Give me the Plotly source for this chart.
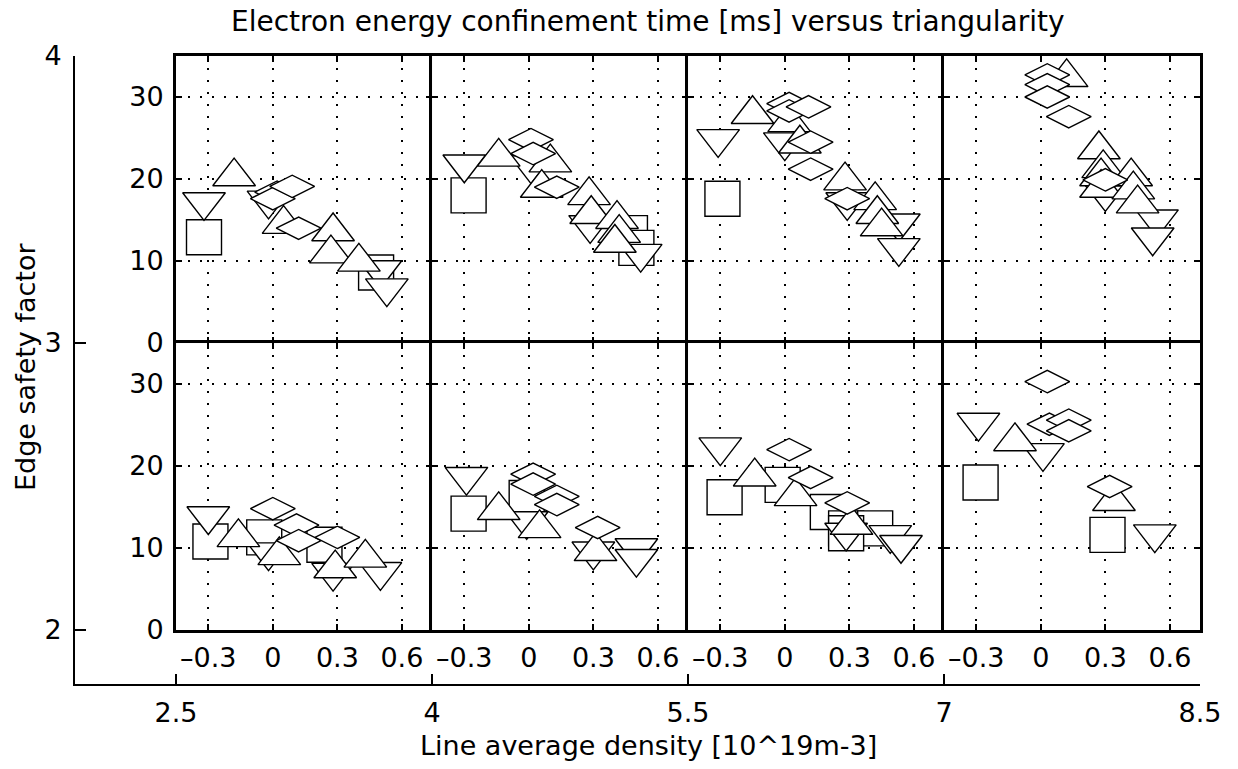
import plotly.graph_objects as go

# ---------------- axis ticks / labels ----------------
DENSITY_TICKS = [2.5, 4, 5.5, 7, 8.5]
DENSITY_LABELS = ["2.5", "4", "5.5", "7", "8.5"]
Q_TICKS = [2, 3, 4]
Q_LABELS = ["2", "3", "4"]
TRI_TICKS = [-0.3, 0, 0.3, 0.6]
TRI_LABELS = ["\u20130.3", "0", "0.3", "0.6"]
TAU_TICKS = [0, 10, 20, 30]
TAU_LABELS = ["0", "10", "20", "30"]

# panel bins: density columns, edge-q rows (top row first)
DENSITY_BINS = [(2.5, 4.0), (4.0, 5.5), (5.5, 7.0), (7.0, 8.5)]
Q_BINS = [(3.0, 4.0), (2.0, 3.0)]

# ---------------- data: triangularity, tau_E [ms], symbol ----------------
# symbol codes: S square, D triangle-down, U triangle-up, R diamond
# top row (q 3-4)
T1_TRI = [-0.32, 0.48, -0.32, -0.02, 0.50, 0.53, -0.18, 0.05, 0.28, 0.27, 0.40, 0.02, 0.00, 0.09, 0.12]
T1_TAU = [12.9, 8.6, 17.2, 17.4, 8.9, 6.7, 20.3, 14.5, 13.6, 10.9, 9.9, 18.4, 17.6, 19.1, 14.0]
T1_SYM = ["S", "S", "D", "D", "D", "D", "U", "U", "U", "U", "U", "R", "R", "R", "R"]

T2_TRI = [-0.28, 0.47, 0.50, -0.30, 0.01, 0.285, 0.52, -0.14, 0.10, 0.06, 0.28, 0.29, 0.41, 0.42, 0.40, 0.01, 0.02, 0.13]
T2_TAU = [18.0, 13.4, 11.6, 21.8, 21.7, 14.4, 10.9, 22.7, 22.0, 18.9, 18.0, 15.7, 15.1, 13.4, 12.2, 24.8, 23.1, 19.0]
T2_SYM = ["S", "S", "S", "D", "D", "D", "D", "U", "U", "U", "U", "U", "U", "U", "U", "R", "R", "R"]

T3_TRI = [-0.29, -0.31, 0.00, 0.29, 0.53, 0.53, -0.15, 0.02, 0.07, 0.28, 0.42, 0.43, 0.45, 0.02, 0.02, 0.11, 0.12, 0.12, 0.29]
T3_TAU = [17.6, 24.9, 24.5, 17.2, 14.6, 11.6, 27.9, 26.9, 24.3, 19.8, 17.4, 15.7, 14.2, 29.2, 28.3, 28.8, 24.5, 21.2, 17.6]
T3_SYM = ["S", "D", "D", "D", "D", "D", "U", "U", "U", "U", "U", "U", "U", "R", "R", "R", "R", "R", "R"]

T4_TRI = [0.30, 0.54, 0.52, 0.12, 0.27, 0.29, 0.28, 0.28, 0.42, 0.43, 0.45, 0.03, 0.03, 0.03, 0.13, 0.30]
T4_TAU = [18.3, 15.1, 12.9, 32.4, 23.6, 21.3, 20.3, 18.9, 20.3, 18.7, 17.0, 32.7, 31.5, 30.0, 27.6, 19.9]
T4_SYM = ["D", "D", "D", "U", "U", "U", "U", "U", "U", "U", "U", "R", "R", "R", "R", "R"]

# bottom row (q 2-3)
B1_TRI = [-0.29, -0.04, 0.24, -0.30, -0.02, 0.28, 0.50, -0.16, 0.03, 0.29, 0.43, 0.00, 0.11, 0.12, 0.30]
B1_TAU = [10.8, 11.3, 10.4, 13.9, 9.5, 7.0, 7.1, 11.3, 9.1, 7.5, 8.8, 14.8, 12.8, 10.9, 11.3]
B1_SYM = ["S", "S", "S", "D", "D", "D", "D", "U", "U", "U", "U", "R", "R", "R", "R"]

B2_TRI = [-0.28, -0.01, -0.29, -0.01, 0.30, 0.50, 0.50, -0.14, 0.05, 0.31, 0.02, 0.02, 0.13, 0.13, 0.32]
B2_TAU = [14.2, 16.1, 18.7, 13.3, 9.6, 10.0, 8.7, 14.6, 12.4, 9.6, 19.0, 17.8, 16.3, 15.3, 12.5]
B2_SYM = ["S", "S", "D", "D", "D", "D", "D", "U", "U", "U", "R", "R", "R", "R", "R"]

B3_TRI = [-0.28, -0.01, 0.20, 0.285, 0.42, 0.285, -0.30, 0.285, 0.49, 0.54, -0.14, 0.05, 0.31, 0.02, 0.12, 0.29]
B3_TAU = [16.2, 17.7, 14.4, 12.4, 12.4, 11.8, 22.3, 11.9, 11.6, 10.4, 18.7, 16.3, 12.8, 22.0, 18.6, 15.5]
B3_SYM = ["S", "S", "S", "S", "S", "S", "D", "D", "D", "D", "U", "U", "U", "R", "R", "R"]

B4_TRI = [-0.28, 0.31, -0.29, 0.01, 0.53, -0.12, 0.34, 0.03, 0.04, 0.13, 0.13, 0.32]
B4_TAU = [18.0, 11.6, 25.3, 21.6, 11.7, 23.0, 15.7, 30.3, 25.1, 25.6, 24.3, 17.5]
B4_SYM = ["S", "S", "D", "D", "D", "U", "U", "R", "R", "R", "R", "R"]

PANELS = [
    [(T1_TRI, T1_TAU, T1_SYM), (T2_TRI, T2_TAU, T2_SYM), (T3_TRI, T3_TAU, T3_SYM), (T4_TRI, T4_TAU, T4_SYM)],
    [(B1_TRI, B1_TAU, B1_SYM), (B2_TRI, B2_TAU, B2_SYM), (B3_TRI, B3_TAU, B3_SYM), (B4_TRI, B4_TAU, B4_SYM)],
]

# ---------------- styling ----------------
SYMBOL_STYLE = {
    "S": ("square", 35),
    "D": ("triangle-down", 37),
    "U": ("triangle-up", 37),
    "R": ("diamond-wide", 32),
}
FONT = "DejaVu Sans"
FS = 27
OUT_X = [1.908, 8.5]
OUT_Y = [1.812, 4.0]
TRI_RANGE = [-0.45, 0.74]
TAU_RANGE = [0, 35]
W, H = 1238, 769
ML, MR, MT, MB = 75, 38, 56, 85


def fx(v):
    return (v - OUT_X[0]) / (OUT_X[1] - OUT_X[0])


def fy(v):
    return (v - OUT_Y[0]) / (OUT_Y[1] - OUT_Y[0])


fig = go.Figure()
# outer (density / edge-q) axes carrier
fig.add_trace(go.Scatter(x=[], y=[], xaxis="x", yaxis="y", showlegend=False))

layout = dict(
    width=W, height=H,
    margin=dict(l=ML, r=MR, t=MT, b=MB),
    paper_bgcolor="white", plot_bgcolor="white",
    showlegend=False,
    font=dict(family=FONT, size=FS, color="black"),
    xaxis=dict(domain=[0, 1], range=OUT_X, anchor="y", tickvals=DENSITY_TICKS, ticktext=DENSITY_LABELS,
               showline=True, linecolor="black", linewidth=2, ticks="inside", ticklen=10, tickwidth=1.5,
               tickcolor="black", showgrid=False, zeroline=False, mirror=False,
               tickfont=dict(family=FONT, size=FS), ticklabelstandoff=4),
    yaxis=dict(domain=[0, 1], range=OUT_Y, anchor="x", tickvals=Q_TICKS, ticktext=Q_LABELS,
               showline=True, linecolor="black", linewidth=2, ticks="inside", ticklen=11, tickwidth=1.5,
               tickcolor="black", showgrid=False, zeroline=False, mirror=False,
               tickfont=dict(family=FONT, size=FS), ticklabelstandoff=6),
)

n = 2
for r, (q0, q1) in enumerate(Q_BINS):
    for c, (d0, d1) in enumerate(DENSITY_BINS):
        tri, tau, sym = PANELS[r][c]
        xa, ya = f"xaxis{n}", f"yaxis{n}"
        xr, yr = f"x{n}", f"y{n}"
        layout[xa] = dict(
            domain=[fx(d0), fx(d1)], range=TRI_RANGE, anchor=yr,
            tickvals=TRI_TICKS, ticktext=TRI_LABELS, showticklabels=(r == 1),
            showline=True, linecolor="black", linewidth=3, mirror="allticks",
            ticks="inside", ticklen=6, tickwidth=1.5, tickcolor="black",
            showgrid=True, gridcolor="black", gridwidth=2, griddash="2px,10px",
            zeroline=False, tickfont=dict(family=FONT, size=FS), ticklabelstandoff=2,
        )
        layout[ya] = dict(
            domain=[fy(q0), fy(q1)], range=TAU_RANGE, anchor=xr,
            tickvals=TAU_TICKS, ticktext=TAU_LABELS, showticklabels=(c == 0),
            showline=True, linecolor="black", linewidth=3, mirror="allticks",
            ticks="inside", ticklen=6, tickwidth=1.5, tickcolor="black",
            showgrid=True, gridcolor="black", gridwidth=2, griddash="2px,10px",
            zeroline=False, tickfont=dict(family=FONT, size=FS), ticklabelstandoff=4,
        )
        fig.add_trace(go.Scatter(
            x=tri, y=tau, xaxis=xr, yaxis=yr, mode="markers", showlegend=False,
            marker=dict(symbol=[SYMBOL_STYLE[s][0] for s in sym],
                        size=[SYMBOL_STYLE[s][1] for s in sym], opacity=1,
                        color="white", line=dict(color="black", width=1.4)),
        ))
        n += 1

pw, ph = W - ML - MR, H - MT - MB
layout["annotations"] = [
    dict(text="Electron energy confinement time [ms] versus triangularity", xref="paper", yref="paper",
         x=(648 - ML) / pw, y=(H - MB - 22) / ph, xanchor="center", yanchor="middle", showarrow=False,
         font=dict(family=FONT, size=28)),
    dict(text="Line average density [10^19m-3]", xref="paper", yref="paper",
         x=(648 - ML) / pw, y=(H - MB - 745) / ph, xanchor="center", yanchor="middle", showarrow=False,
         font=dict(family=FONT, size=FS)),
    dict(text="Edge safety factor", xref="paper", yref="paper", textangle=-90,
         x=(26 - ML) / pw, y=(H - MB - 367) / ph, xanchor="center", yanchor="middle", showarrow=False,
         font=dict(family=FONT, size=FS)),
]
fig.update_layout(**layout)
fig.write_html("out.html")
